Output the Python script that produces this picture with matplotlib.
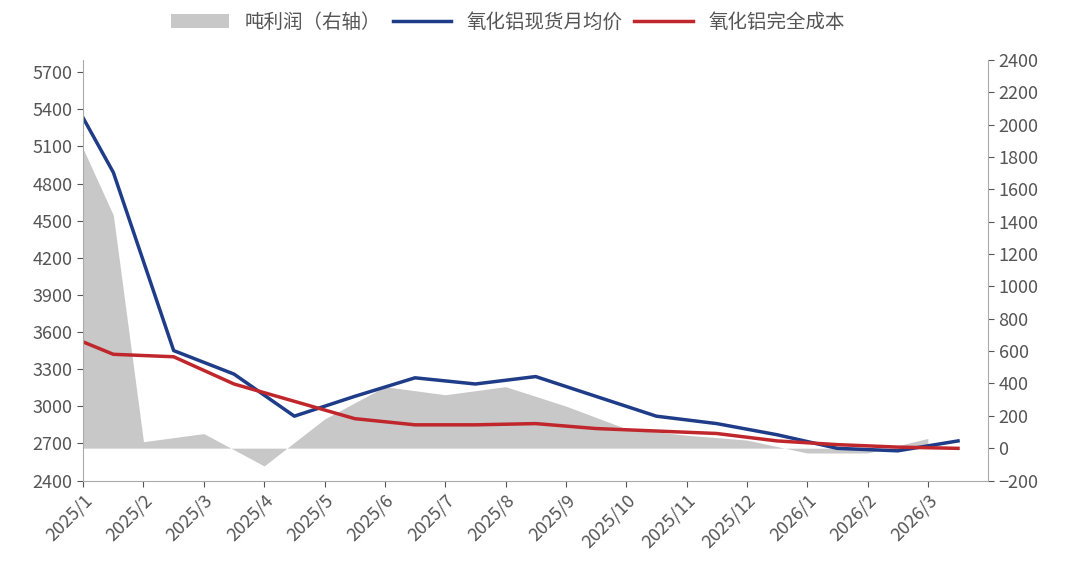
import matplotlib
matplotlib.use("Agg")
import matplotlib.pyplot as plt

plt.rcParams['font.family'] = ['Noto Sans CJK SC', 'DejaVu Sans']

months = ["2025/1","2025/2","2025/3","2025/4","2025/5","2025/6","2025/7","2025/8",
          "2025/9","2025/10","2025/11","2025/12","2026/1","2026/2","2026/3"]
xpos = [0, 0.5, 1.5, 2.5, 3.5, 4.5, 5.5, 6.5, 7.5, 8.5, 9.5, 10.5, 11.5, 12.5, 13.5, 14.5]
xprofit = [0, 0.5, 1, 2, 3, 4, 5, 6, 7, 8, 9, 10, 11, 12, 13, 14]
price = [5330, 4890, 3450, 3260, 2920, 3080, 3230, 3180, 3240, 3080, 2920, 2860, 2770, 2660, 2640, 2720]
cost = [3520, 3420, 3400, 3180, 3040, 2900, 2850, 2850, 2860, 2820, 2800, 2780, 2720, 2690, 2670, 2660]
profit = [1850, 1440, 40, 90, -110, 180, 380, 330, 380, 260, 120, 80, 50, -30, -30, 60]

fig, ax = plt.subplots(figsize=(10.8, 5.86), dpi=100)
fig.subplots_adjust(left=0.077, right=0.915, top=0.898, bottom=0.18)
ax2 = ax.twinx()
ax.set_zorder(ax2.get_zorder() + 1)
ax.patch.set_visible(False)

ax2.fill_between(xprofit, profit, 0, color='#c8c8c8', label='吨利润（右轴）', lw=0)
ax.plot(xpos, price, color='#1f3c88', lw=2.5, label='氧化铝现货月均价')
ax.plot(xpos, cost, color='#c0272d', lw=2.5, label='氧化铝完全成本')

ax.set_ylim(2400, 5800)
ax.set_yticks(range(2400, 5701, 300))
ax2.set_ylim(-200, 2400)
ax2.set_yticks(range(-200, 2401, 200))
ax.set_xlim(0, 15)
ax.set_xticks(range(15))

for a in (ax, ax2):
    for s in a.spines.values():
        s.set_visible(False)
    a.tick_params(colors='#555555', labelsize=13, length=4)
ax.spines['left'].set_visible(True)
ax.spines['left'].set_color('#aaaaaa')
ax.spines['bottom'].set_visible(True)
ax.spines['bottom'].set_color('#aaaaaa')
ax2.spines['right'].set_visible(True)
ax2.spines['right'].set_color('#aaaaaa')
ax.set_xticklabels(months)
for lab in ax.get_xticklabels():
    lab.set_rotation(45)
    lab.set_ha('right')
    lab.set_rotation_mode('anchor')
    lab.set_fontsize(13)
    lab.set_color('#555555')

h2, l2 = ax2.get_legend_handles_labels()
h1, l1 = ax.get_legend_handles_labels()
fig.legend(h2 + h1, l2 + l1, loc='upper center', bbox_to_anchor=(0.47, 1.01), ncol=3,
           frameon=False, fontsize=14, labelcolor='#555555', handlelength=3, columnspacing=0.6)

fig.savefig("out.png", dpi=100)
